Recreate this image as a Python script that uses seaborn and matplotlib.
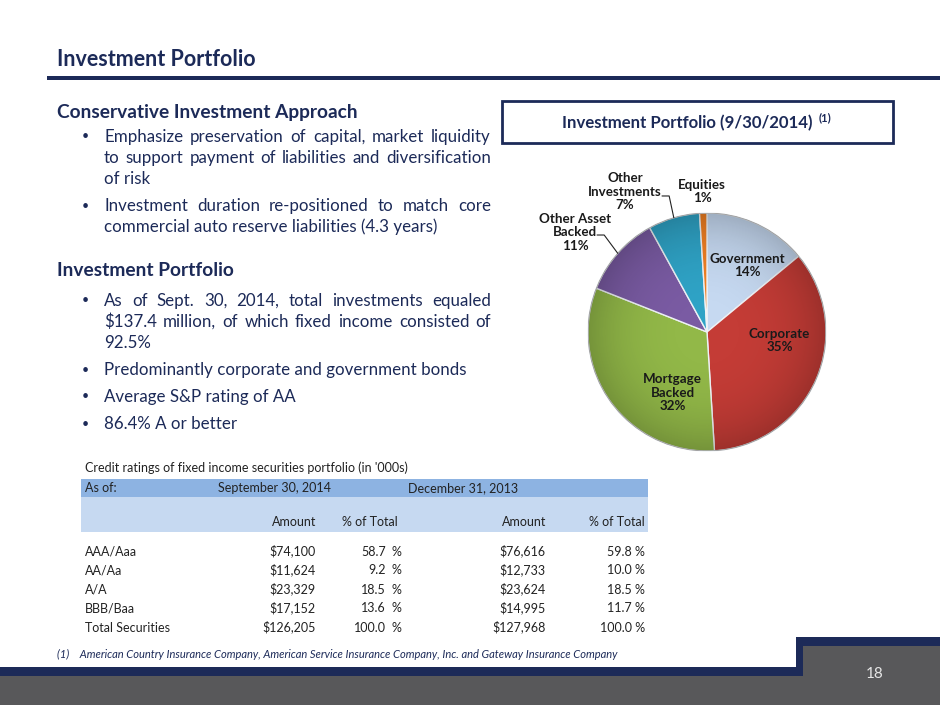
import matplotlib
matplotlib.use("Agg")
import matplotlib.pyplot as plt
import matplotlib.patches as mpatches
import seaborn as sns
import numpy as np
import pandas as pd

# ---- pie data (Investment Portfolio 9/30/2014) ----
sectors = ["Government", "Corporate", "Mortgage\nBacked", "Other Asset\nBacked",
           "Other\nInvestments", "Equities"]
shares = [14, 35, 32, 11, 7, 1]
sector_colors = ["#c6d9f1", "#c43c36", "#92b848", "#7a5ba3", "#2fa3c6", "#f07f22"]

# ---- table data (credit ratings, in '000s) ----
ratings = ["AAA/Aaa", "AA/Aa", "A/A", "BBB/Baa", "Total Securities"]
amount_2014 = [74100, 11624, 23329, 17152, 126205]
pct_2014 = [58.7, 9.2, 18.5, 13.6, 100.0]
amount_2013 = [76616, 12733, 23624, 14995, 127968]
pct_2013 = [59.8, 10.0, 18.5, 11.7, 100.0]

# ---- slide text ----
approach_bullets = [
    ["Emphasize preservation of capital, market liquidity",
     "to support payment of liabilities and diversification",
     "of risk"],
    ["Investment duration re-positioned to match core",
     "commercial auto reserve liabilities (4.3 years)"],
]
portfolio_bullets = [
    ["As of Sept. 30, 2014, total investments equaled",
     "$137.4 million, of which fixed income consisted of",
     "92.5%"],
    ["Predominantly corporate and government bonds"],
    ["Average S&P rating of AA"],
    ["86.4% A or better"],
]

NAVY = "#1c2a58"
GRAY = "#58585a"

sns.set_theme(style="white")
plt.rcParams["font.family"] = ["Lato", "DejaVu Sans"]

fig = plt.figure(figsize=(9.4, 7.05), dpi=100)
ax = fig.add_axes([0, 0, 1, 1])
ax.set_xlim(0, 940)
ax.set_ylim(705, 0)
ax.axis("off")
renderer = fig.canvas.get_renderer()


def put(x, y, s, fontsize, **kw):
    # y is the visual middle of the capitals; draw on a shared baseline
    return ax.text(x, y + 0.36 * fontsize * 100 / 72, s, va="baseline",
                   fontsize=fontsize, **kw)


def justify(text, x0, x1, y, fontsize, **kw):
    # spread the words of one line between x0 and x1
    words = text.split()
    arts = [put(0, y, w, fontsize, ha="left", **kw) for w in words]
    widths = [a.get_window_extent(renderer).width for a in arts]
    gap = (x1 - x0 - sum(widths)) / max(len(words) - 1, 1)
    x = x0
    for a, w in zip(arts, widths):
        a.set_x(x)
        x += w + gap


def bullet_block(bullets, y, fs):
    for lines in bullets:
        put(82, y, "\u2022", 9, ha="left", color=NAVY)
        for i, line in enumerate(lines):
            if i < len(lines) - 1:
                justify(line, 104, 491, y, fs, color=NAVY)
            else:
                put(104, y, line, fs, ha="left", color=NAVY)
            y += 21
        y += 6
    return y


# title and rule
put(57, 58, "Investment Portfolio", 15.5, ha="left", fontweight="bold", color=NAVY)
ax.add_patch(mpatches.Rectangle((47, 76), 893, 4, color=NAVY, lw=0))

BODY = 12.2
HEAD = 13.8
put(57, 111, "Conservative Investment Approach", HEAD, ha="left",
    fontweight="bold", color=NAVY)
bullet_block(approach_bullets, 136, BODY)
put(57, 269, "Investment Portfolio", HEAD, ha="left", fontweight="bold", color=NAVY)
bullet_block(portfolio_bullets, 300, BODY)

# chart title box
ax.add_patch(mpatches.Rectangle((502, 101), 391, 42, fill=False, ec=NAVY, lw=2))
t = put(562, 122, "Investment Portfolio (9/30/2014)", 12.1, ha="left",
        fontweight="bold", color=NAVY)
tw = t.get_window_extent(renderer).width
put(562 + tw + 6, 117, "(1)", 8, ha="left", fontweight="bold", color=NAVY)

# ---- pie ----
cx, cy, r = 707, 332, 119
pax = fig.add_axes([(cx - r) / 940, 1 - (cy + r) / 705, 2 * r / 940, 2 * r / 705])
wedges, _ = pax.pie(shares, colors=sns.color_palette(sector_colors), startangle=90,
                    counterclock=False,
                    wedgeprops=dict(edgecolor="#eef2f6", linewidth=1.0))
pax.set_xlim(-1.0, 1.0)
pax.set_ylim(-1.0, 1.0)
pax.set_aspect("auto")
pax.axis("off")

# soft shading toward the rim
gx, gy = np.meshgrid(np.linspace(-1, 1, 300), np.linspace(-1, 1, 300))
rr = np.sqrt(gx ** 2 + gy ** 2)
shade = np.zeros((300, 300, 4))
shade[..., 3] = np.clip(rr, 0, 1) ** 3 * 0.2
img = pax.imshow(shade, extent=(-1, 1, -1, 1), origin="lower", zorder=3)
img.set_clip_path(mpatches.Circle((0, 0), 1.0, transform=pax.transData))
pax.add_patch(mpatches.Circle((0, 0), 1.0, fill=False, ec="#9a9a9a", lw=0.6, zorder=4))

label_text = ["Government\n14%", "Corporate\n35%", "Mortgage\nBacked\n32%",
              "Other Asset\nBacked\n11%", "Other\nInvestments\n7%", "Equities\n1%"]
label_pos = [(0.34, 0.56), (0.61, -0.07), (-0.29, -0.51),
             (-1.11, 0.84), (-0.69, 1.18), (-0.04, 1.18)]
for txt, (lx, ly) in zip(label_text, label_pos):
    pax.text(lx, ly, txt, ha="center", va="center", fontsize=9.6, fontweight="bold",
             color="#1a1a1a", linespacing=1.15, zorder=5, clip_on=False)

# leader lines for the outside labels, ending on the wedge rim
leader_start = {3: (-0.924, 0.815), 4: (-0.378, 1.143)}
for k, (sx, sy) in leader_start.items():
    w = wedges[k]
    mid = np.deg2rad((w.theta1 + w.theta2) / 2)
    ex, ey = np.cos(mid), np.sin(mid)
    pax.plot([sx, sx + 0.06, ex], [sy, sy, ey], color="#222222", lw=0.8,
             clip_on=False, zorder=5)

# ---- table ----
tbl = pd.DataFrame({"rating": ratings, "a14": amount_2014, "p14": pct_2014,
                    "a13": amount_2013, "p13": pct_2013})
TF = 9
tkw = dict(color="#222222")
put(85, 468, "Credit ratings of fixed income securities portfolio (in '000s)", TF,
    ha="left", **tkw)
ax.add_patch(mpatches.Rectangle((81, 479), 567, 18, color="#8db3e2", lw=0))
ax.add_patch(mpatches.Rectangle((81, 497), 567, 35, color="#c6d9f1", lw=0))
put(85, 488, "As of:", TF, ha="left", **tkw)
put(274, 488, "September 30, 2014", TF, ha="center", **tkw)
put(463, 488, "December 31, 2013", TF, ha="center", **tkw)
for xr, lab in [(316, "Amount"), (398, "% of Total"), (546, "Amount"), (645, "% of Total")]:
    put(xr, 522, lab, TF, ha="right", **tkw)

y = 551
for _, row in tbl.iterrows():
    put(85, y, row["rating"], TF, ha="left", **tkw)
    put(316, y, f"${row['a14']:,.0f}", TF, ha="right", **tkw)
    put(386, y, f"{row['p14']:.1f}", TF, ha="right", **tkw)
    put(391, y, "%", TF, ha="left", **tkw)
    put(546, y, f"${row['a13']:,.0f}", TF, ha="right", **tkw)
    put(645, y, f"{row['p13']:.1f} %", TF, ha="right", **tkw)
    y += 19

# footnote
put(57, 654, "(1)    American Country Insurance Company, American Service Insurance Company, "
    "Inc. and Gateway Insurance Company", 8, ha="left", style="italic", color=NAVY)

# footer bars
ax.add_patch(mpatches.Rectangle((0, 667), 940, 38, color=GRAY, lw=0))
ax.add_patch(mpatches.Rectangle((0, 667), 803, 9, color=NAVY, lw=0))
ax.add_patch(mpatches.Rectangle((796, 637), 144, 9, color=NAVY, lw=0))
ax.add_patch(mpatches.Rectangle((796, 637), 7, 39, color=NAVY, lw=0))
ax.add_patch(mpatches.Rectangle((803, 646), 137, 30, color=GRAY, lw=0))
put(875, 672, "18", 11, ha="center", color="#e6e6e6")

fig.savefig("out.png", dpi=100)
